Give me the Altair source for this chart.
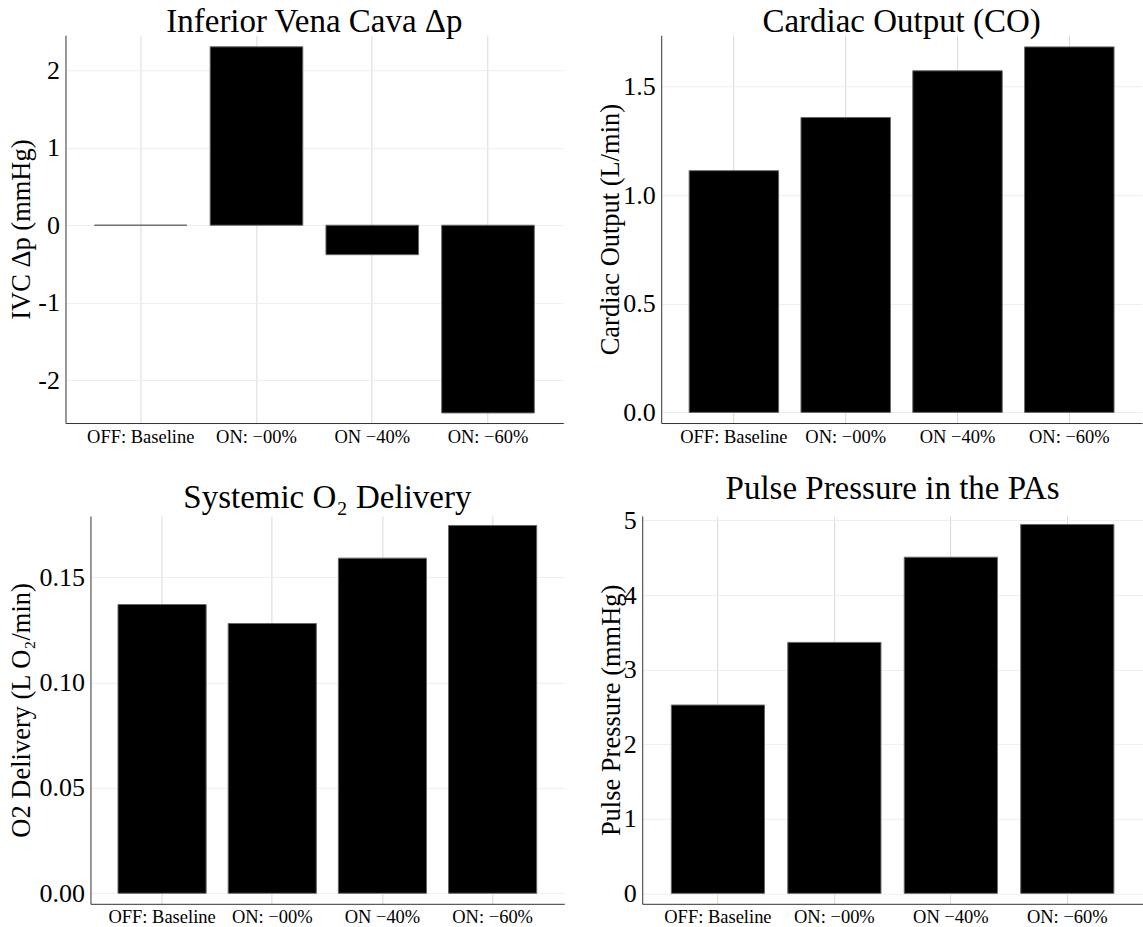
import altair as alt
import pandas as pd

categories = ["OFF: Baseline", "ON: \u221200%", "ON \u221240%", "ON: \u221260%"]
ivc_dp = [0.0, 2.30, -0.38, -2.42]
cardiac_output = [1.113, 1.358, 1.573, 1.683]
o2_delivery = [0.137, 0.128, 0.159, 0.1745]
pulse_pressure = [2.525, 3.365, 4.507, 4.946]

titles = ["Inferior Vena Cava \u0394p", "Cardiac Output (CO)",
          "Systemic O\u2082 Delivery", "Pulse Pressure in the PAs"]
ytitles = ["IVC \u0394p (mmHg)", "Cardiac Output (L/min)",
           "O2 Delivery (L O\u2082/min)", "Pulse Pressure (mmHg)"]

FONT = "Liberation Serif"


def panel(values, title, ytitle, domain, ticks, label_expr, width, extent, toffset):
    df = pd.DataFrame({"cat": categories, "val": values})
    return (
        alt.Chart(df, title=alt.Title(title, fontSize=33, font=FONT, fontWeight="normal",
                                      anchor="middle", frame="group", offset=toffset,
                                      color="black"))
        .mark_bar(color="black", stroke="#666666", strokeWidth=1)
        .encode(
            x=alt.X("cat:N", sort=categories, title=None,
                    scale=alt.Scale(paddingInner=0.2, paddingOuter=0.25),
                    axis=alt.Axis(labelAngle=0, labelFontSize=18.5, labelPadding=4, ticks=False,
                                  grid=True, gridColor="#d9d9d9", bandPosition=0.5,
                                  domainColor="#333333", labelColor="black")),
            y=alt.Y("val:Q", title=ytitle,
                    scale=alt.Scale(domain=domain, nice=False, zero=False),
                    axis=alt.Axis(values=ticks, labelExpr=label_expr, labelFontSize=26,
                                  labelPadding=6, ticks=False, grid=True, gridColor="#eeeeee",
                                  titleFontSize=26.5, titlePadding=5, titleFontWeight="normal",
                                  minExtent=extent, maxExtent=extent,
                                  domainColor="#333333", labelColor="black", titleColor="black")),
        )
        .properties(width=width, height=388)
    )


def spacer():
    return (
        alt.Chart(pd.DataFrame({"a": [0]}))
        .mark_rect(opacity=0)
        .encode(x=alt.value(0), x2=alt.value(1), y=alt.value(0), y2=alt.value(1))
        .properties(width=1, height=1)
    )


p1 = panel(ivc_dp, titles[0], ytitles[0], [-2.55, 2.45], [-2, -1, 0, 1, 2],
           "'' + datum.value", 498, 25, -4)
p2 = panel(cardiac_output, titles[1], ytitles[1], [-0.049, 1.737], [0, 0.5, 1.0, 1.5],
           "format(datum.value, '.1f')", 481, 31.5, -4)
p3 = panel(o2_delivery, titles[2], ytitles[2], [-0.005, 0.179], [0, 0.05, 0.10, 0.15],
           "format(datum.value, '.2f')", 474, 49.5, 1)
p4 = panel(pulse_pressure, titles[3], ytitles[3], [-0.14, 5.06], [0, 1, 2, 3, 4, 5],
           "'' + datum.value", 501, 11.5, 1)

row1 = alt.hconcat(spacer(), alt.hconcat(p1, p2, spacing=34), spacing=0)
row2 = alt.hconcat(spacer(), alt.hconcat(p3, p4, spacing=34), spacing=0)

chart = (
    alt.vconcat(row1, row2, spacing=27)
    .properties(padding={"left": 7.5, "top": 6, "right": 0, "bottom": 0}, background="white")
    .configure_view(stroke=None)
    .configure_axis(labelFont=FONT, titleFont=FONT)
)

chart.save("out.html", embed_options={"renderer": "svg", "actions": False})
